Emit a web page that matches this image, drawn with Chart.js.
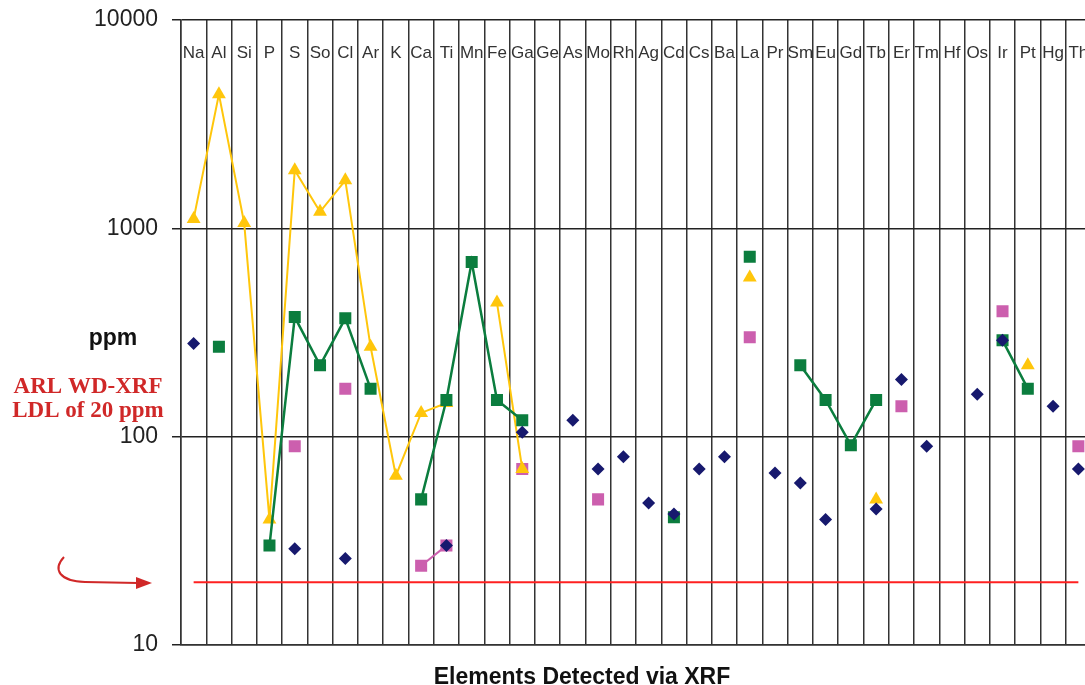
<!DOCTYPE html>
<html>
<head>
<meta charset="utf-8">
<title>Elements Detected via XRF</title>
<script src="https://cdn.jsdelivr.net/npm/chart.js@4.4.1/dist/chart.umd.min.js"></script>
<style>
    html, body { margin: 0; padding: 0; background: #fff; overflow: hidden; }
    #wrap { width: 1100px; height: 685px; }
</style>
</head>
<body>
<div id="wrap"><canvas id="xrf-chart" width="1100" height="685"></canvas></div>
<script>
// --- DATA ---
const categories = ['Na', 'Al', 'Si', 'P', 'S', 'So', 'Cl', 'Ar', 'K', 'Ca', 'Ti', 'Mn', 'Fe', 'Ga', 'Ge', 'As', 'Mo', 'Rh',
    'Ag', 'Cd', 'Cs', 'Ba', 'La', 'Pr', 'Sm', 'Eu', 'Gd', 'Tb', 'Er', 'Tm', 'Hf', 'Os', 'Ir', 'Pt', 'Hg', 'Th'];

// navy diamonds (no line)
const seriesBlue = [280, null, null, null, 29, null, 26, null, null, null, 30, null, null, 105, null, 120, 70, 80,
    48, 42.5, 70, 80, null, 67, 60, 40, null, 45, 188, 90, null, 160, 290, null, 140, 70];

// green squares
const seriesGreen = [null, 270, null, 30, 375, 220, 370, 170, null, 50, 150, 690, 150, 120, null, null, null, null,
    null, 41, null, null, 730, null, 220, 150, 91, 150, null, null, null, null, 290, 170, null, null];

// yellow triangles
const seriesYellow = [1110, 4400, 1060, 40, 1900, 1200, 1700, 270, 65, 130, 145, null, 440, 70, null, null, null, null,
    null, null, null, null, 580, null, null, null, null, 50, null, null, null, null, null, 220, null, null];

// pink squares
const seriesPink = [null, null, null, null, 90, null, 170, null, null, 24, 30, null, null, 70, null, null, 50, null,
    null, null, null, null, 300, null, null, null, null, null, 140, null, null, null, 400, null, null, 90];

const yTicks = [10, 100, 1000, 10000];
const LDL_PPM = 20;
const ldlLine = categories.map(() => LDL_PPM);

const FONT = '"Liberation Sans", Arial, sans-serif';

// --- Text & annotation overlay ---
const xrfTextPlugin = {
    id: 'xrfText',
    afterDraw(chart) {
        const { ctx, chartArea, scales } = chart;
        ctx.save();

        // element symbols across the top of the plot
        ctx.font = '17px ' + FONT;
        ctx.fillStyle = '#333';
        ctx.textAlign = 'center';
        ctx.textBaseline = 'middle';
        categories.forEach((c, i) => {
            ctx.fillText(c, scales.x.getPixelForValue(i), chartArea.top + 33);
        });

        // y axis title
        ctx.font = 'bold 23px ' + FONT;
        ctx.fillStyle = '#111';
        ctx.fillText('ppm', 113, 339);

        // x axis title (cut by the bottom edge, as in the original)
        ctx.textBaseline = 'alphabetic';
        ctx.fillText('Elements Detected via XRF', 582, 684);

        // LDL note
        ctx.textBaseline = 'middle';
        ctx.font = 'bold 23px "Liberation Serif", "Times New Roman", serif';
        ctx.fillStyle = '#d02828';
        ctx.fillText('ARL WD-XRF', 88, 387);
        ctx.fillText('LDL of 20 ppm', 88, 411);

        // curved arrow
        ctx.strokeStyle = '#d02828';
        ctx.lineWidth = 2;
        ctx.beginPath();
        ctx.moveTo(64, 557);
        ctx.bezierCurveTo(52, 570, 60, 581, 85, 582);
        ctx.lineTo(138, 583);
        ctx.stroke();
        ctx.beginPath();
        ctx.moveTo(152, 583);
        ctx.lineTo(136, 577);
        ctx.lineTo(136, 589);
        ctx.closePath();
        ctx.fillStyle = '#d02828';
        ctx.fill();

        ctx.restore();
    }
};

const ctx = document.getElementById('xrf-chart');

new Chart(ctx, {
    type: 'line',
    data: {
        labels: categories,
        datasets: [
            {
                label: 'LDL',
                data: ldlLine,
                borderColor: '#ff2020',
                borderWidth: 2,
                pointRadius: 0,
                order: 5
            },
            {
                label: 'Pink',
                data: seriesPink,
                borderColor: '#cc5fae',
                backgroundColor: '#cc5fae',
                borderWidth: 2,
                pointStyle: 'rect',
                pointRadius: 8.5,
                pointBorderWidth: 0,
                order: 4
            },
            {
                label: 'Yellow',
                data: seriesYellow,
                borderColor: '#ffc60b',
                backgroundColor: '#ffc60b',
                borderWidth: 2,
                pointStyle: 'triangle',
                pointRadius: 8,
                pointBorderWidth: 0,
                order: 3
            },
            {
                label: 'Green',
                data: seriesGreen,
                borderColor: '#0b7d3e',
                backgroundColor: '#0b7d3e',
                borderWidth: 2.5,
                pointStyle: 'rect',
                pointRadius: 8.5,
                pointBorderWidth: 0,
                order: 2
            },
            {
                label: 'Blue',
                data: seriesBlue,
                showLine: false,
                borderColor: '#17196e',
                backgroundColor: '#17196e',
                pointStyle: 'rectRot',
                pointRadius: 6.5,
                pointBorderWidth: 0,
                order: 1
            }
        ]
    },
    options: {
        responsive: false,
        animation: false,
        spanGaps: false,
        layout: { padding: { top: 20, right: 9, left: 0, bottom: 0 } },
        plugins: {
            legend: { display: false },
            tooltip: { enabled: false }
        },
        elements: { line: { tension: 0 } },
        scales: {
            x: {
                type: 'category',
                offset: true,
                grid: { offset: true, color: '#333', lineWidth: 1.5, drawTicks: false },
                border: { display: true, color: '#333', width: 1.5 },
                ticks: { display: false },
                afterFit(scale) { scale.height = 40; }
            },
            y: {
                type: 'logarithmic',
                min: 10,
                max: 10000,
                afterBuildTicks(scale) {
                    scale.ticks = yTicks.map(v => ({ value: v }));
                },
                afterFit(scale) {
                    scale.width = 181;
                    scale.paddingTop = 0;
                    scale.paddingBottom = 0;
                },
                grid: { color: '#222', lineWidth: 1.5, tickLength: 9 },
                border: { display: true, color: '#333', width: 1.5 },
                ticks: {
                    color: '#222',
                    padding: 14,
                    font: { family: FONT, size: 23 },
                    callback: v => String(v)
                }
            }
        }
    },
    plugins: [xrfTextPlugin]
});
</script>
</body>
</html>
